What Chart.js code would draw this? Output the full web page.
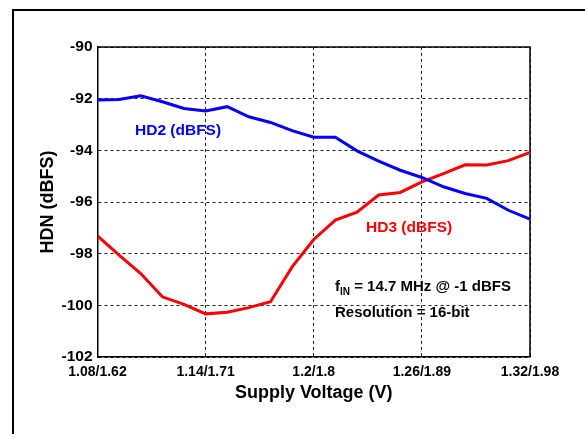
<!DOCTYPE html>
<html>
<head>
<meta charset="utf-8">
<script src="https://cdn.jsdelivr.net/npm/chart.js@4.4.0/dist/chart.umd.min.js"></script>
<style>
  html, body { margin: 0; padding: 0; background: #fff; }
  #wrap { position: relative; width: 585px; height: 434px; }
</style>
</head>
<body>
<div id="wrap"><canvas id="chart" width="585" height="434"></canvas></div>
<script>
// supply voltage steps (core V), 21 points
const voltages = [1.08, 1.092, 1.104, 1.116, 1.128, 1.14, 1.152, 1.164, 1.176, 1.188, 1.2,
                  1.212, 1.224, 1.236, 1.248, 1.26, 1.272, 1.284, 1.296, 1.308, 1.32];
const hd2 = [-92.05, -92.03, -91.89, -92.12, -92.38, -92.48, -92.31, -92.70, -92.92, -93.24, -93.49,
             -93.49, -94.02, -94.42, -94.77, -95.05, -95.41, -95.67, -95.86, -96.32, -96.66];
const hd3 = [-97.31, -98.06, -98.77, -99.67, -99.96, -100.33, -100.27, -100.09, -99.86, -98.51, -97.45,
             -96.70, -96.39, -95.73, -95.63, -95.22, -94.90, -94.56, -94.57, -94.40, -94.08];
const xTicks = [1.08, 1.14, 1.2, 1.26, 1.32];
const xTickLabels = ['1.08/1.62', '1.14/1.71', '1.2/1.8', '1.26/1.89', '1.32/1.98'];

const FONT = '"Liberation Sans", Arial, sans-serif';

const frame = {
    id: 'frame',
    beforeDraw(chart) {
        const ctx = chart.ctx;
        ctx.save();
        ctx.strokeStyle = '#000';
        ctx.lineWidth = 2;
        ctx.beginPath();
        ctx.moveTo(13, 434);
        ctx.lineTo(13, 10);
        ctx.lineTo(585, 10);
        ctx.stroke();
        ctx.restore();
    }
};

const notes = {
    id: 'notes',
    afterDatasetsDraw(chart) {
        const ctx = chart.ctx;
        const x = chart.scales.x, y = chart.scales.y;
        ctx.save();
        ctx.textBaseline = 'middle';
        ctx.font = 'bold 15.5px ' + FONT;
        ctx.textAlign = 'center';
        ctx.fillStyle = '#0000ff';
        ctx.fillText('HD2 (dBFS)', x.getPixelForValue(1.1247), y.getPixelForValue(-93.25));
        ctx.fillStyle = '#ff0000';
        ctx.fillText('HD3 (dBFS)', x.getPixelForValue(1.2529), y.getPixelForValue(-97.01));

        ctx.fillStyle = '#000';
        ctx.textAlign = 'left';
        let px = x.getPixelForValue(1.2118);
        let py = y.getPixelForValue(-99.29);
        ctx.font = 'bold 15px ' + FONT;
        ctx.fillText('f', px, py);
        let w = ctx.measureText('f').width;
        ctx.font = 'bold 10px ' + FONT;
        ctx.fillText('IN', px + w, py + 5);
        w += ctx.measureText('IN').width;
        ctx.font = 'bold 15px ' + FONT;
        ctx.fillText(' = 14.7 MHz @ -1 dBFS', px + w, py);
        ctx.fillText('Resolution = 16-bit', px, y.getPixelForValue(-100.30));
        ctx.restore();
    }
};

const edges = {
    id: 'edges',
    beforeDatasetsDraw(chart) {
        // top and right edges of the plot box
        const a = chart.chartArea, ctx = chart.ctx;
        ctx.save();
        ctx.strokeStyle = '#000';
        ctx.lineWidth = 1.5;
        ctx.beginPath();
        ctx.moveTo(a.left, a.top);
        ctx.lineTo(a.right, a.top);
        ctx.lineTo(a.right, a.bottom);
        ctx.stroke();
        ctx.restore();
    }
};

new Chart(document.getElementById('chart'), {
    type: 'line',
    data: {
        datasets: [{
            label: 'HD2 (dBFS)',
            data: voltages.map((v, i) => ({x: v, y: hd2[i]})),
            borderColor: '#0000ff',
            borderWidth: 3,
            pointRadius: 0,
            tension: 0
        }, {
            label: 'HD3 (dBFS)',
            data: voltages.map((v, i) => ({x: v, y: hd3[i]})),
            borderColor: '#ff0000',
            borderWidth: 3,
            pointRadius: 0,
            tension: 0
        }]
    },
    options: {
        responsive: false,
        animation: false,
        layout: { padding: { left: 33.7, top: 47, right: 55, bottom: 26.5 } },
        plugins: {
            legend: { display: false },
            tooltip: { enabled: false }
        },
        scales: {
            x: {
                type: 'linear',
                min: 1.08,
                max: 1.32,
                afterBuildTicks: function(scale) {
                    scale.ticks = xTicks.map(v => ({value: v}));
                },
                afterFit: function(scale) { scale.height = 50.5; },
                ticks: {
                    color: '#000',
                    font: { family: FONT, size: 14, weight: 'bold' },
                    padding: 7,
                    maxRotation: 0,
                    autoSkip: false,
                    callback: function(v, i) { return xTickLabels[i]; }
                },
                grid: { color: '#222', lineWidth: 1, drawTicks: false },
                border: { display: true, color: '#000', width: 1.5, dash: [3, 3] },
                title: {
                    display: true,
                    text: 'Supply Voltage (V)',
                    color: '#000',
                    font: { family: FONT, size: 18, weight: 'bold' }
                }
            },
            y: {
                min: -102,
                max: -90,
                afterFit: function(scale) { scale.width = 63.8; },
                ticks: {
                    stepSize: 2,
                    color: '#000',
                    font: { family: FONT, size: 15.5, weight: 'bold' },
                    padding: 5
                },
                grid: { color: '#222', lineWidth: 1, drawTicks: false },
                border: { display: true, color: '#000', width: 1.5, dash: [3, 3] },
                title: {
                    display: true,
                    text: 'HDN (dBFS)',
                    color: '#000',
                    font: { family: FONT, size: 18, weight: 'bold' }
                }
            }
        }
    },
    plugins: [frame, edges, notes]
});
</script>
</body>
</html>
